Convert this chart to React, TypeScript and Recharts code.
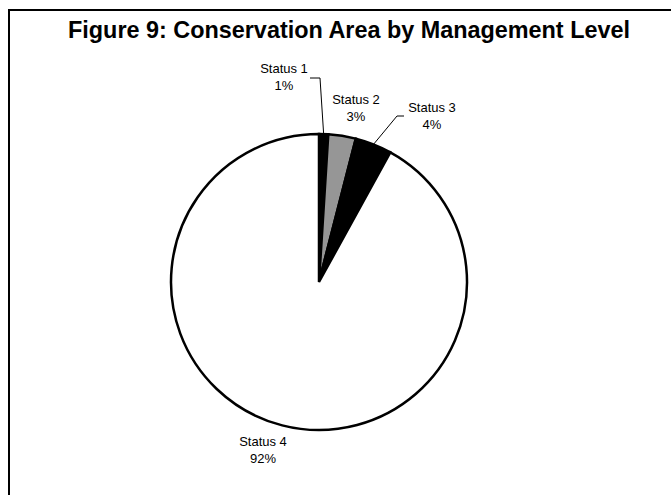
import React from 'react';
import { PieChart, Pie, Cell } from 'recharts';

const statusNames = ['Status 1', 'Status 2', 'Status 3', 'Status 4'];
const shares = [1, 3, 4, 92];
const pctLabels = ['1%', '3%', '4%', '92%'];

const data = statusNames.map((name, i) => ({ name, value: shares[i], pct: pctLabels[i] }));

const fills = ['#000000', '#969696', '#000000', '#ffffff'];

// where each label block sits, relative to the pie centre
const labelPos: Record<string, { x: number; y: number }> = {
  'Status 1': { x: -35, y: -204 },
  'Status 2': { x: 37, y: -173 },
  'Status 3': { x: 113, y: -165 },
  'Status 4': { x: -56, y: 169 },
};

// elbow of the leader line, relative to the pie centre
const leaders: Record<string, { x: number; y: number; dx: number }> = {
  'Status 1': { x: 1, y: -204, dx: -10 },
  'Status 3': { x: 78, y: -166, dx: 7 },
};

const RADIAN = Math.PI / 180;
const font = 'Arial, "Liberation Sans", sans-serif';

const renderLabel = (props: any) => {
  const { cx, cy, midAngle, outerRadius, name, payload } = props;
  const pos = labelPos[name];
  const lx = cx + pos.x;
  const ly = cy + pos.y;
  const lead = leaders[name];
  let line = null;
  if (lead) {
    const ex = cx + outerRadius * Math.cos(-midAngle * RADIAN);
    const ey = cy + outerRadius * Math.sin(-midAngle * RADIAN);
    const bx = cx + lead.x;
    const by = cy + lead.y;
    line = (
      <polyline
        points={`${ex},${ey} ${bx},${by} ${bx + lead.dx},${by}`}
        fill="none"
        stroke="#000"
        strokeWidth={1}
      />
    );
  }
  return (
    <g>
      {line}
      <text x={lx} y={ly - 8.5} textAnchor="middle" dominantBaseline="middle" fontSize={13} fontFamily={font} fill="#000">
        {name}
      </text>
      <text x={lx} y={ly + 8.5} textAnchor="middle" dominantBaseline="middle" fontSize={13} fontFamily={font} fill="#000">
        {payload.pct}
      </text>
    </g>
  );
};

export default function App() {
  return (
    <div style={{ position: 'fixed', left: 0, top: 0, width: 671, height: 495, overflow: 'hidden', background: '#fff' }}>
      <div
        style={{
          position: 'absolute',
          left: 8,
          top: 9,
          width: 720,
          height: 540,
          border: '2px solid #000',
        }}
      />
      <div
        style={{
          position: 'absolute',
          left: 0,
          top: 16,
          width: 698,
          textAlign: 'center',
          fontFamily: font,
          fontWeight: 'bold',
          fontSize: 23.4,
          lineHeight: '28px',
          color: '#000',
          whiteSpace: 'nowrap',
        }}
      >
        Figure 9: Conservation Area by Management Level
      </div>
      <div style={{ position: 'absolute', left: 0, top: 0 }}>
        <PieChart width={671} height={495}>
          <Pie
            data={data}
            dataKey="value"
            nameKey="name"
            cx={314}
            cy={277}
            outerRadius={148}
            startAngle={90}
            endAngle={-270}
            stroke="#000"
            strokeWidth={2.5}
            label={renderLabel}
            labelLine={false}
            isAnimationActive={false}
          >
            {data.map((d, i) => (
              <Cell key={d.name} fill={fills[i]} stroke="#000" strokeWidth={2.5} />
            ))}
          </Pie>
        </PieChart>
      </div>
    </div>
  );
}
